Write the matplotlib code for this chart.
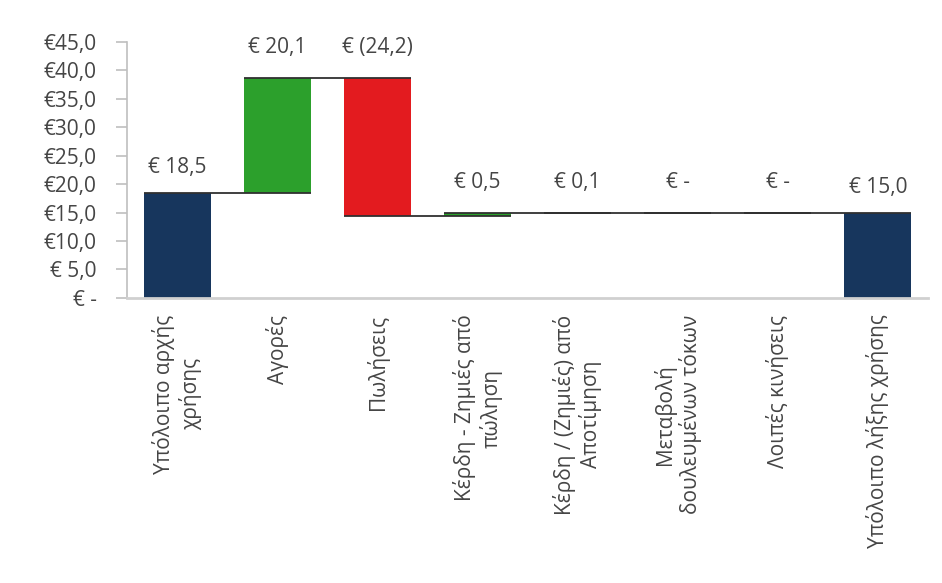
import matplotlib.pyplot as plt
import numpy as np

plt.rcParams['font.family'] = ['Open Sans', 'DejaVu Sans']

# --- Waterfall data (million €) ---
categories = [
    'Υπόλοιπο αρχής\nχρήσης',
    'Αγορές',
    'Πωλήσεις',
    'Κέρδη - Ζημιές από\nπώληση',
    'Κέρδη / (Ζημιές) από\nΑποτίμηση',
    'Μεταβολή\nδουλευμένων τόκων',
    'Λοιπές κινήσεις',
    'Υπόλοιπο λήξης χρήσης',
]
opening = 18.5
changes = [20.1, -24.2, 0.5, 0.1, 0.0, 0.0]
closing = 15.0

navy = '#17365d'
green = '#2ca02c'
red = '#e31b1f'
text_col = '#454545'

# running totals between the two balances
levels = opening + np.cumsum([0] + changes)  # level before/after each step
n = len(categories)
x = np.arange(n)
width = 0.67

fig, ax = plt.subplots(figsize=(9.42, 5.83), dpi=100)
fig.subplots_adjust(left=0.135, right=0.985, bottom=0.489, top=0.928)

bottoms, heights, colors, values = [], [], [], []
bottoms.append(0); heights.append(opening); colors.append(navy); values.append(opening)
for i, d in enumerate(changes):
    start = levels[i]
    bottoms.append(min(start, start + d))
    heights.append(abs(d))
    colors.append(green if d > 0 else red)
    values.append(d)
bottoms.append(0); heights.append(closing); colors.append(navy); values.append(closing)

ax.bar(x, heights, width, bottom=bottoms, color=colors, zorder=2)

# connector lines: from the left edge of a bar to the right edge of the next
run = list(levels)
for i in range(n - 1):
    ax.plot([x[i] - width / 2, x[i + 1] + width / 2], [run[i], run[i]],
            color='#303030', lw=1.3, zorder=3, solid_capstyle='butt')


def fmt(v):
    if v == 0:
        return '€ -'
    s = f'{abs(v):.1f}'.replace('.', ',')
    return f'€ ({s})' if v < 0 else f'€ {s}'


for i in range(n):
    top = bottoms[i] + heights[i]
    off = 18 if i in (0, n - 1) else 22
    ax.annotate(fmt(values[i]), (x[i], top), xytext=(0, off),
                textcoords='offset points', ha='center', va='center',
                fontsize=15, color=text_col)

ax.set_xlim(-0.5, n - 0.5)
ax.set_ylim(0, 45)
yt = np.arange(0, 46, 5)
ax.set_yticks(yt)
ax.set_yticklabels(['€ -'] + [f'€{v:4.1f}'.replace('.', ',') for v in yt[1:]],
                   fontsize=15, color=text_col)
ax.set_xticks(x)
ax.set_xticklabels(categories, rotation=90, fontsize=15, color=text_col,
                   multialignment='center')
ax.tick_params(axis='x', length=0, pad=12)
ax.tick_params(axis='y', length=8, width=1.2, color='#bfbfbf', direction='out',
               pad=14)

for s in ('top', 'right'):
    ax.spines[s].set_visible(False)
ax.spines['left'].set_color('#bfbfbf')
ax.spines['left'].set_linewidth(1.2)
ax.spines['bottom'].set_color('#d0d0d0')
ax.spines['bottom'].set_linewidth(2)

fig.savefig('out.png', dpi=100)
